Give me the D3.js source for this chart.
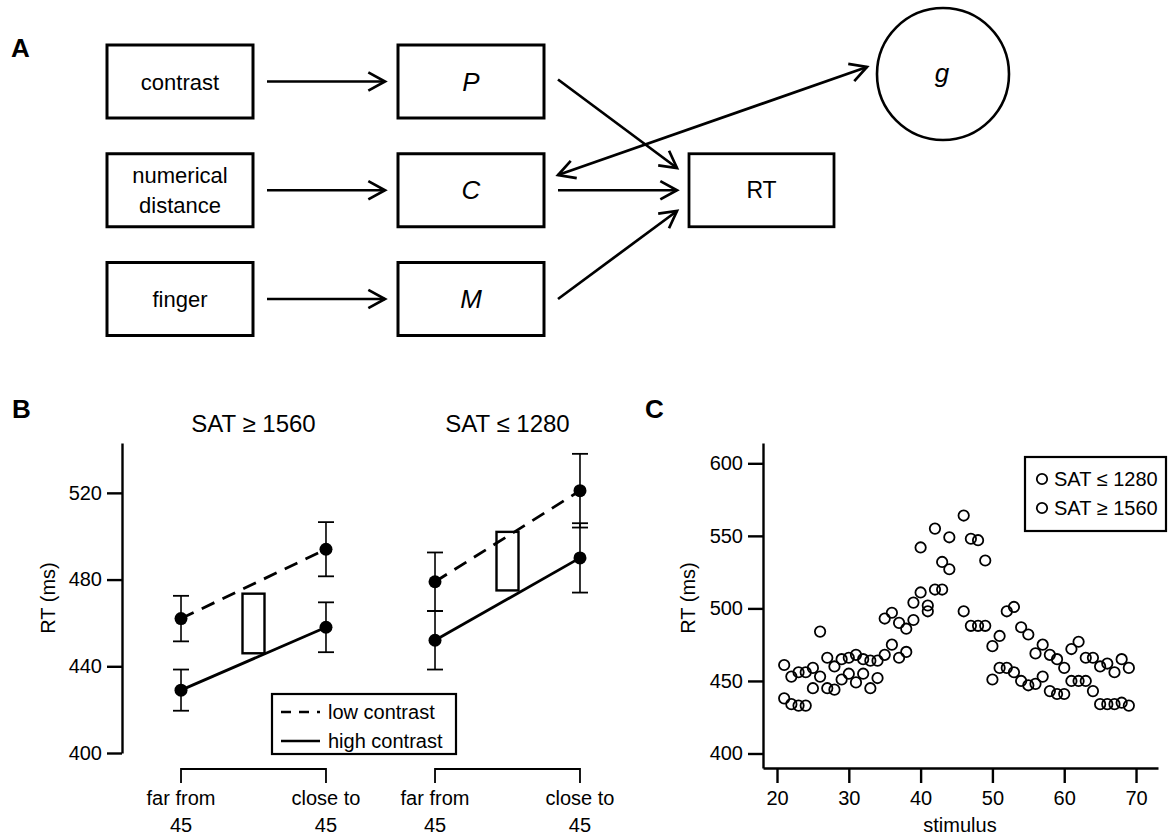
<!DOCTYPE html>
<html>
<head>
<meta charset="utf-8">
<script src="https://cdn.jsdelivr.net/npm/d3@7"></script>
<style>
  body { margin: 0; background: #fff; }
  svg { display: block; }
  text { font-family: "Liberation Sans", Arial, sans-serif; fill: #000; }
</style>
</head>
<body>
<div id="fig"></div>
<script>
// ---- panel A: path diagram
const inputs = [["contrast"], ["numerical", "distance"], ["finger"]];
const factors = ["P", "C", "M"];
const outcome = "RT";
const general = "g";

// ---- panel B: mean RT by SAT group, distance and contrast
const groups = ["SAT \u2265 1560", "SAT \u2264 1280"];
const conditions = ["far from", "close to"];
const lowMean = [[462, 494], [479, 521]];
const lowErr = [[10.5, 12.5], [13.5, 17]];
const highMean = [[429, 458], [452, 490]];
const highErr = [[9.5, 11.5], [13.5, 16]];
const effectLow = [446, 475];
const effectHigh = [473.5, 502];
const rtTicksB = [400, 440, 480, 520];

// ---- panel C: RT by stimulus for each SAT group
const stimuli = [21, 22, 23, 24, 25, 26, 27, 28, 29, 30, 31, 32, 33, 34, 35, 36, 37, 38, 39, 40,
  41, 42, 43, 44, 46, 47, 48, 49, 50, 51, 52, 53, 54, 55, 56, 57, 58, 59, 60, 61, 62, 63, 64,
  65, 66, 67, 68, 69];
const rtLowSAT = [461, 453, 456, 456, 459, 484, 466, 460, 465, 466, 468, 465, 464, 464, 493, 497,
  490, 486, 504, 542, 502, 555, 532, 549, 564, 548, 547, 533, 474, 481, 498, 501, 487, 482, 469,
  475, 468, 465, 459, 472, 477, 466, 466, 460, 462, 456, 465, 459];
const rtHighSAT = [438, 434, 433, 433, 445, 453, 445, 444, 451, 455, 449, 455, 445, 452, 468, 475,
  466, 470, 492, 511, 498, 513, 513, 527, 498, 488, 488, 488, 451, 459, 459, 456, 450, 447, 448,
  453, 443, 441, 441, 450, 450, 450, 443, 434, 434, 434, 435, 433];
const seriesC = ["SAT \u2264 1280", "SAT \u2265 1560"];
const rtTicksC = [400, 450, 500, 550, 600];
const stimTicks = [20, 30, 40, 50, 60, 70];

const W = 1168, H = 836;
const svg = d3.select("#fig").append("svg").attr("width", W).attr("height", H);

function panelLabel(t, x, y) {
  svg.append("text").attr("x", x).attr("y", y).text(t)
    .attr("font-size", 26).attr("font-weight", "bold");
}

// V shaped open arrow head at (x2,y2) pointing away from (x1,y1)
function arrowHead(g, x1, y1, x2, y2) {
  const a = Math.atan2(y2 - y1, x2 - x1), len = 19, sp = 0.5;
  g.append("path")
    .attr("d", "M" + (x2 - len * Math.cos(a - sp)) + "," + (y2 - len * Math.sin(a - sp)) +
      "L" + x2 + "," + y2 +
      "L" + (x2 - len * Math.cos(a + sp)) + "," + (y2 - len * Math.sin(a + sp)))
    .attr("fill", "none").attr("stroke", "#000").attr("stroke-width", 2.7);
}
function arrow(g, x1, y1, x2, y2, both) {
  g.append("line").attr("x1", x1).attr("y1", y1).attr("x2", x2).attr("y2", y2)
    .attr("stroke", "#000").attr("stroke-width", 2.7);
  arrowHead(g, x1, y1, x2, y2);
  if (both) arrowHead(g, x2, y2, x1, y1);
}

// ================= A =================
panelLabel("A", 11, 57);
const gA = svg.append("g");
const rowY = d3.scalePoint().domain(d3.range(inputs.length)).range([81.5, 299]);
const boxW = 146, boxH = 73;
const colX = [180, 471, 761.5];

inputs.forEach((lines, i) => {
  const cy = rowY(i);
  gA.append("rect").attr("x", colX[0] - boxW / 2).attr("y", cy - boxH / 2)
    .attr("width", boxW).attr("height", boxH)
    .attr("fill", "none").attr("stroke", "#000").attr("stroke-width", 3);
  const t = gA.append("text").attr("text-anchor", "middle").attr("font-size", 22);
  lines.forEach((s, k) => {
    t.append("tspan").attr("x", colX[0])
      .attr("y", cy + 8 + (k - (lines.length - 1) / 2) * 30).text(s);
  });
  arrow(gA, colX[0] + 87, cy, colX[1] - 86, cy);
});

factors.forEach((f, i) => {
  const cy = rowY(i);
  gA.append("rect").attr("x", colX[1] - boxW / 2).attr("y", cy - boxH / 2)
    .attr("width", boxW).attr("height", boxH)
    .attr("fill", "none").attr("stroke", "#000").attr("stroke-width", 3);
  gA.append("text").attr("x", colX[1]).attr("y", cy + 9).attr("text-anchor", "middle")
    .attr("font-size", 26).attr("font-style", "italic").text(f);
});

const rtY = rowY(1);
gA.append("rect").attr("x", colX[2] - 72.5).attr("y", rtY - boxH / 2)
  .attr("width", 145).attr("height", boxH)
  .attr("fill", "none").attr("stroke", "#000").attr("stroke-width", 2.8);
gA.append("text").attr("x", colX[2]).attr("y", rtY + 8).attr("text-anchor", "middle")
  .attr("font-size", 23).text(outcome);

// factors -> RT
arrow(gA, 558, rowY(0) - 2, 677, 168);
arrow(gA, 558, rtY, 677, rtY);
arrow(gA, 558, rowY(2), 677, 211);

// g circle and double arrow to C
gA.append("circle").attr("cx", 943).attr("cy", 74).attr("r", 66)
  .attr("fill", "none").attr("stroke", "#000").attr("stroke-width", 2.6);
gA.append("text").attr("x", 942).attr("y", 82).attr("text-anchor", "middle")
  .attr("font-size", 26).attr("font-style", "italic").text(general);
arrow(gA, 558, 175, 867, 67, true);

// ================= B =================
panelLabel("B", 12, 418);
const gB = svg.append("g");
const yB = d3.scaleLinear().domain([400, 543]).range([753, 443]);
const xGroup = d3.scaleBand().domain(groups).range([126.5, 634.5]);
const xCond = d3.scalePoint().domain(conditions).range([0, xGroup.bandwidth()]).padding(0.376);
const xB = (gi, ci) => xGroup(groups[gi]) + xCond(conditions[ci]);

const axB = gB.append("g").attr("transform", "translate(122,0)")
  .call(d3.axisLeft(yB).tickValues(rtTicksB).tickSize(15).tickPadding(5).tickSizeOuter(0));
axB.selectAll("path, line").attr("stroke", "#000").attr("stroke-width", 2.4);
axB.selectAll("text").attr("font-size", 20).attr("font-family", "Liberation Sans, Arial, sans-serif");

gB.append("text").attr("transform", "translate(55,598) rotate(-90)")
  .attr("text-anchor", "middle").attr("font-size", 20).text("RT (ms)");

groups.forEach((gname, gi) => {
  const cx = xGroup(gname) + xGroup.bandwidth() / 2;
  gB.append("text").attr("x", cx).attr("y", 432).attr("text-anchor", "middle")
    .attr("font-size", 24).text(gname);

  // contrast effect box
  gB.append("rect").attr("x", cx - 11).attr("y", yB(effectHigh[gi]))
    .attr("width", 22).attr("height", yB(effectLow[gi]) - yB(effectHigh[gi]))
    .attr("fill", "none").attr("stroke", "#000").attr("stroke-width", 2.4);

  [[lowMean, lowErr, "14,9"], [highMean, highErr, null]].forEach(([m, e, dash]) => {
    const line = gB.append("line")
      .attr("x1", xB(gi, 0)).attr("y1", yB(m[gi][0]))
      .attr("x2", xB(gi, 1)).attr("y2", yB(m[gi][1]))
      .attr("stroke", "#000").attr("stroke-width", 2.8);
    if (dash) line.attr("stroke-dasharray", dash);
    conditions.forEach((c, ci) => {
      const x = xB(gi, ci), v = m[gi][ci], er = e[gi][ci];
      gB.append("line").attr("x1", x).attr("x2", x)
        .attr("y1", yB(v - er)).attr("y2", yB(v + er))
        .attr("stroke", "#000").attr("stroke-width", 1.6);
      [v - er, v + er].forEach(w => {
        gB.append("line").attr("x1", x - 8).attr("x2", x + 8)
          .attr("y1", yB(w)).attr("y2", yB(w))
          .attr("stroke", "#000").attr("stroke-width", 1.8);
      });
      gB.append("circle").attr("cx", x).attr("cy", yB(v)).attr("r", 6.5).attr("fill", "#000");
    });
  });

  // bracket and category labels
  const xa = xB(gi, 0), xc = xB(gi, 1);
  gB.append("path").attr("d", `M${xa},783V769H${xc}V783`)
    .attr("fill", "none").attr("stroke", "#000").attr("stroke-width", 1.8);
  conditions.forEach((c, ci) => {
    const t = gB.append("text").attr("text-anchor", "middle").attr("font-size", 20);
    t.append("tspan").attr("x", xB(gi, ci)).attr("y", 805).text(c);
    t.append("tspan").attr("x", xB(gi, ci)).attr("y", 832).text("45");
  });
});

// legend B
const lgB = gB.append("g");
lgB.append("rect").attr("x", 272).attr("y", 694).attr("width", 184).attr("height", 60)
  .attr("fill", "#fff").attr("stroke", "#000").attr("stroke-width", 2.2);
[["low contrast", "10,8"], ["high contrast", null]].forEach(([lab, dash], i) => {
  const y = 712 + i * 29;
  const l = lgB.append("line").attr("x1", 281).attr("x2", 320).attr("y1", y).attr("y2", y)
    .attr("stroke", "#000").attr("stroke-width", 2.6);
  if (dash) l.attr("stroke-dasharray", dash);
  lgB.append("text").attr("x", 328).attr("y", y + 7).attr("font-size", 20).text(lab);
});

// ================= C =================
panelLabel("C", 645, 418);
const gC = svg.append("g");
const xC = d3.scaleLinear().domain([18.05, 73.06]).range([763, 1158]);
const yC = d3.scaleLinear().domain([390, 614]).range([768, 443]);

const axCy = gC.append("g").attr("transform", "translate(763,0)")
  .call(d3.axisLeft(yC).tickValues(rtTicksC).tickSize(15).tickPadding(5).tickSizeOuter(0));
const axCx = gC.append("g").attr("transform", "translate(0,768)")
  .call(d3.axisBottom(xC).tickValues(stimTicks).tickSize(15).tickPadding(8).tickSizeOuter(0));
[axCy, axCx].forEach(ax => {
  ax.selectAll("path, line").attr("stroke", "#000").attr("stroke-width", 2.4);
  ax.selectAll("text").attr("font-size", 20).attr("font-family", "Liberation Sans, Arial, sans-serif");
});

gC.append("text").attr("transform", "translate(695,598) rotate(-90)")
  .attr("text-anchor", "middle").attr("font-size", 20).text("RT (ms)");
gC.append("text").attr("x", 960).attr("y", 832).attr("text-anchor", "middle")
  .attr("font-size", 20).text("stimulus");

[rtLowSAT, rtHighSAT].forEach(vals => {
  gC.append("g").selectAll("circle")
    .data(stimuli.map((s, i) => [s, vals[i]]))
    .join("circle")
    .attr("cx", d => xC(d[0])).attr("cy", d => yC(d[1])).attr("r", 5.2)
    .attr("fill", "none").attr("stroke", "#000").attr("stroke-width", 1.8);
});

// legend C
const lgC = gC.append("g");
lgC.append("rect").attr("x", 1025).attr("y", 457).attr("width", 141).attr("height", 74)
  .attr("fill", "#fff").attr("stroke", "#000").attr("stroke-width", 2.2);
seriesC.forEach((lab, i) => {
  const y = 479 + i * 29;
  lgC.append("circle").attr("cx", 1042).attr("cy", y).attr("r", 5.2)
    .attr("fill", "none").attr("stroke", "#000").attr("stroke-width", 1.8);
  lgC.append("text").attr("x", 1054).attr("y", y + 7).attr("font-size", 20).text(lab);
});
</script>
</body>
</html>
